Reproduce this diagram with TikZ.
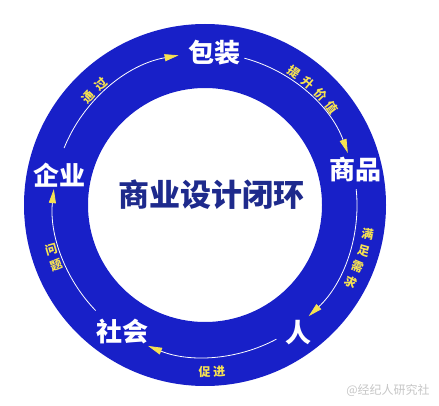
\documentclass[tikz,border=0pt]{standalone}
\usepackage{fontspec}
\setmainfont{Noto Sans CJK SC}
\usetikzlibrary{arrows.meta}
\definecolor{ringblue}{RGB}{24,32,200}
\definecolor{titleblue}{RGB}{30,42,140}
\definecolor{tipyellow}{RGB}{246,226,82}

\begin{document}
\begin{tikzpicture}[x=1pt,y=-1pt,
  stage/.style={text=white,font=\bfseries\fontsize{26}{26}\selectfont,inner sep=0pt},
  hint/.style={text=tipyellow,font=\bfseries\fontsize{12}{12}\selectfont,inner sep=0pt},
  flow/.style={white,line width=0.8pt,-{Triangle[length=14pt,width=7pt,color=tipyellow,fill=tipyellow]}}]
\useasboundingbox (0,0) rectangle (439,406);
\coordinate (O) at (205,205);
\fill[ringblue,even odd rule] (O) circle (181) (O) circle (117);
\node[text=titleblue,font=\bfseries\fontsize{31}{31}\selectfont,inner sep=0pt] (title) at (211,195) {商业设计闭环};
\node[stage] (pack) at (214,53) {包装};
\node[stage] (goods) at (355,170) {商品};
\node[stage] (people) at (298,333) {人};
\node[stage] (society) at (122,332) {社会};
\node[stage] (firm) at (59,175) {企业};
\path (O) ++(-158:152) coordinate (firm-out);
\path (O) ++(-75:152) coordinate (pack-out);
\path (O) ++(-6:152) coordinate (goods-out);
\path (O) ++(62:152) coordinate (people-out);
\path (O) ++(136:152) coordinate (society-out);
\draw[flow] (firm-out) arc[start angle=-158,end angle=-100,radius=152];
\draw[flow] (pack-out) arc[start angle=-75,end angle=-20,radius=152];
\draw[flow] (goods-out) arc[start angle=-6,end angle=47,radius=152];
\draw[flow] (people-out) arc[start angle=62,end angle=112,radius=152];
\draw[flow] (society-out) arc[start angle=136,end angle=186,radius=152];
\node[hint,rotate=47] (h1a) at ([shift={(-137.3:159)}]O) {通};
\node[hint,rotate=41] (h1b) at ([shift={(-130.8:159)}]O) {过};
\node[hint,rotate=-34] (h2a) at ([shift={(-56.3:160)}]O) {提};
\node[hint,rotate=-40] (h2b) at ([shift={(-50:160)}]O) {升};
\node[hint,rotate=-46] (h2c) at ([shift={(-43.7:160)}]O) {价};
\node[hint,rotate=-53] (h2d) at ([shift={(-37.4:160)}]O) {值};
\node[hint,rotate=-10] (h3a) at ([shift={(10:165)}]O) {满};
\node[hint,rotate=-16] (h3b) at ([shift={(16:165)}]O) {足};
\node[hint,rotate=-22] (h3c) at ([shift={(22:165)}]O) {需};
\node[hint,rotate=-28] (h3d) at ([shift={(28:165)}]O) {求};
\node[hint] (h4a) at ([shift={(90.1:167)}]O) {促};
\node[hint,rotate=5] (h4b) at ([shift={(85.1:167)}]O) {进};
\node[hint,rotate=16] (h5a) at ([shift={(164:160)}]O) {问};
\node[hint,rotate=22] (h5b) at ([shift={(158:160)}]O) {题};
\node[text=gray!45,font=\fontsize{12}{12}\selectfont,inner sep=0pt] (mark) at (388,390) {@经纪人研究社};
\end{tikzpicture}
\end{document}
